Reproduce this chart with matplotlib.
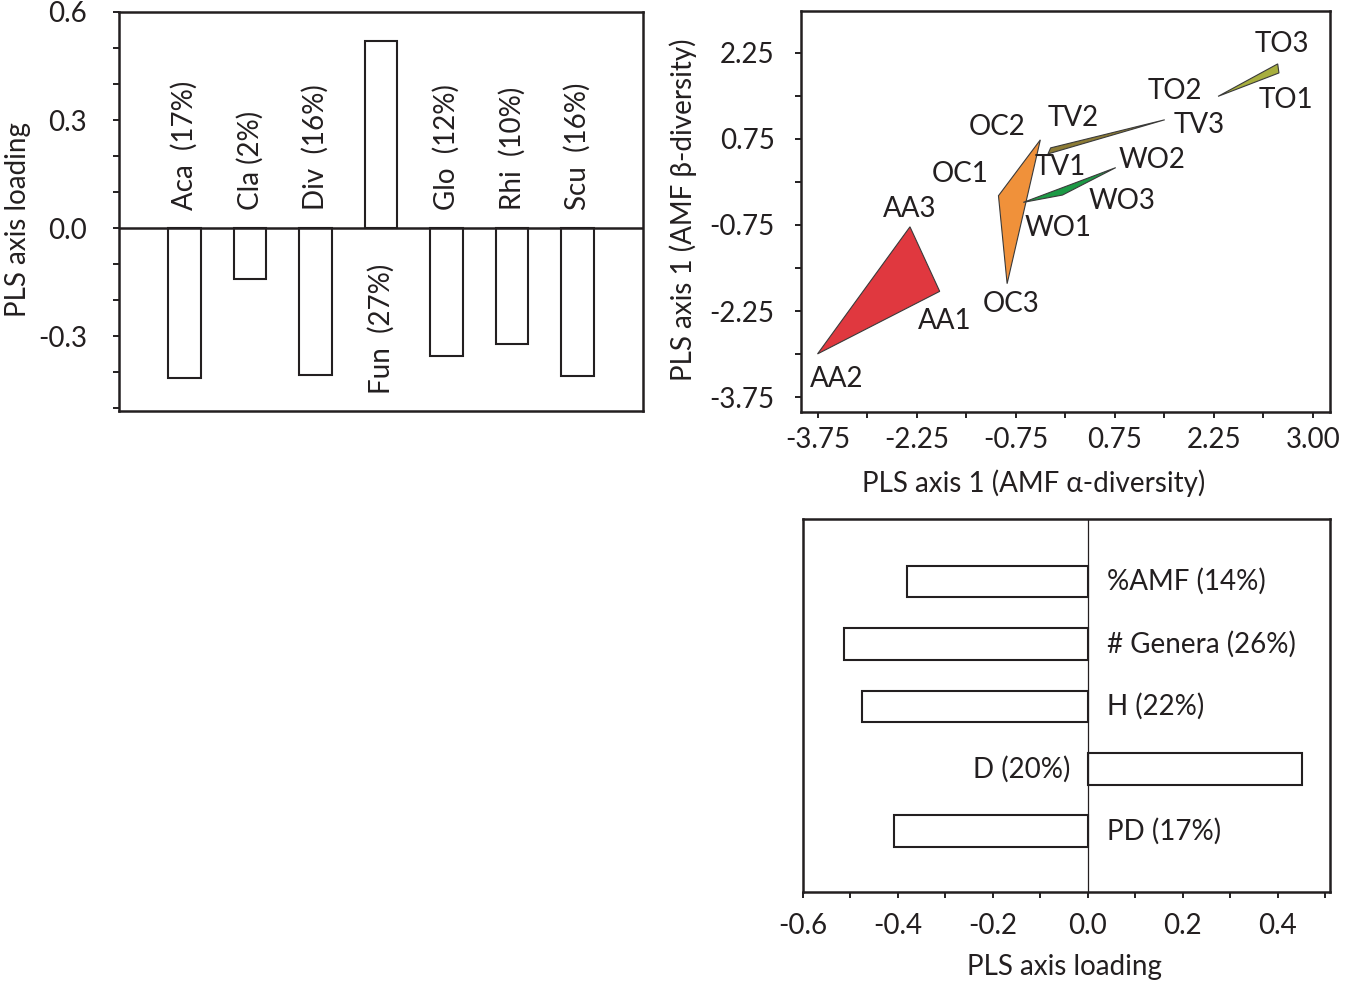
import matplotlib
matplotlib.use("Agg")
import matplotlib.pyplot as plt
from matplotlib.patches import Polygon
from matplotlib.ticker import MultipleLocator, FixedLocator

plt.rcParams['font.family'] = ['Lato', 'DejaVu Sans']

# ---------------- data ----------------
genera = ["Aca", "Cla", "Div", "Fun", "Glo", "Rhi", "Scu"]
genera_pct = ["17%", "2%", "16%", "27%", "12%", "10%", "16%"]
genera_loading = [-0.415, -0.142, -0.407, 0.52, -0.356, -0.323, -0.41]

div_names = ["%AMF", "# Genera", "H", "D", "PD"]
div_pct = ["14%", "26%", "22%", "20%", "17%"]
div_loading = [-0.38, -0.513, -0.475, 0.451, -0.408]

groups = ["AA", "OC", "TV", "WO", "TO"]
group_colors = {"AA": "#e0383f", "OC": "#f0913a", "TV": "#8c7b35",
                "WO": "#1c9a45", "TO": "#a7ae3e"}
site_names = {
    "AA": ["AA1", "AA2", "AA3"],
    "OC": ["OC1", "OC2", "OC3"],
    "TV": ["TV1", "TV2", "TV3"],
    "WO": ["WO1", "WO2", "WO3"],
    "TO": ["TO1", "TO2", "TO3"],
}
alpha_scores = {
    "AA": [-1.90, -3.75, -2.35],
    "OC": [-1.01, -0.376, -0.879],
    "TV": [-0.26, -0.22, 1.508],
    "WO": [-0.634, 0.766, -0.04],
    "TO": [3.237, 2.315, 3.218],
}
beta_scores = {
    "AA": [-1.907, -2.998, -0.782],
    "OC": [-0.24, 0.734, -1.773],
    "TV": [0.489, 0.594, 1.084],
    "WO": [-0.356, 0.25, -0.228],
    "TO": [1.90, 1.492, 2.058],
}

x_ticks = [-3.75, -2.25, -0.75, 0.75, 2.25, 3.75]
x_ticklabels = ["-3.75", "-2.25", "-0.75", "0.75", "2.25", "3.00"]
y_ticks = [-3.75, -2.25, -0.75, 0.75, 2.25]
y_ticklabels = ["-3.75", "-2.25", "-0.75", "0.75", "2.25"]

# label offsets (layout only) relative to each vertex, in data units
label_offsets = {
    "AA1": (0.08, -0.51), "AA2": (0.29, -0.44), "AA3": (-0.01, 0.31),
    "OC1": (-0.58, 0.37), "OC2": (-0.66, 0.23), "OC3": (0.06, -0.35),
    "TV1": (0.19, -0.22), "TV2": (0.34, 0.52), "TV3": (0.52, -0.09),
    "WO1": (0.53, -0.455), "WO2": (0.55, 0.13), "WO3": (0.90, -0.105),
    "TO1": (0.11, -0.47), "TO2": (-0.65, 0.10), "TO3": (0.06, 0.34),
}

# ---------------- figure ----------------
W, H = 1350, 989
fig = plt.figure(figsize=(W / 100, H / 100), dpi=100)

def frac(l, r, t, b):
    return [l / W, 1 - b / H, (r - l) / W, (b - t) / H]

FS_TICK = 20
FS_TXT = 20
LW_FRAME = 1.8
TXT = "#231f20"

def style_axes(ax):
    for s in ax.spines.values():
        s.set_linewidth(LW_FRAME)
        s.set_color(TXT)
    ax.tick_params(which="both", direction="out", length=4, width=1.4,
                   colors=TXT, labelsize=FS_TICK, pad=6)

# ---- top-left: genus loadings ----
ax1 = fig.add_axes(frac(119, 643, 12, 411))
xpos = list(range(1, len(genera) + 1))
ax1.bar(xpos, genera_loading, width=0.5, color="white", edgecolor=TXT,
        linewidth=1.5, zorder=2)
ax1.axhline(0, color=TXT, lw=LW_FRAME, zorder=3)
ax1.set_xlim(0, 8)
ax1.set_ylim(-0.508, 0.6)
ax1.set_xticks([])
ax1.yaxis.set_major_locator(FixedLocator([-0.3, 0.0, 0.3, 0.6]))
ax1.yaxis.set_minor_locator(MultipleLocator(0.1))
ax1.set_yticklabels(["-0.3", "0.0", "0.3", "0.6"])
style_axes(ax1)
ax1.tick_params(axis="y", which="major", pad=19)
ax1.tick_params(axis="x", which="both", length=0)
for x, name, pct, v in zip(xpos, genera, genera_pct, genera_loading):
    sep = " " if name == "Cla" else "  "
    if v < 0:
        ax1.text(x, 0.05, f"{name}{sep}({pct})", rotation=90, ha="center",
                 va="bottom", fontsize=FS_TXT, color=TXT)
    else:
        ax1.text(x, -0.10, f"{name}{sep}({pct})", rotation=90, ha="center",
                 va="top", fontsize=FS_TXT, color=TXT)
ax1.set_ylabel("PLS axis loading", fontsize=FS_TXT, color=TXT)
ax1.yaxis.set_label_coords(-0.192, 0.48)
ax1.yaxis.label.set_va("center")

# ---- top-right: scatter polygons ----
ax2 = fig.add_axes(frac(801, 1330, 11, 412))
for g in groups:
    pts = list(zip(alpha_scores[g], beta_scores[g]))
    ax2.add_patch(Polygon(pts, closed=True, facecolor=group_colors[g],
                          edgecolor="#3a3a3a", linewidth=0.8, zorder=2))
    for name, xv, yv in zip(site_names[g], alpha_scores[g], beta_scores[g]):
        dx, dy = label_offsets[name]
        ax2.text(xv + dx, yv + dy, name, ha="center", va="center",
                 fontsize=FS_TXT, color=TXT, zorder=3)
ax2.set_xlim(-4.0, 4.01)
ax2.set_ylim(-4.01, 2.98)
ax2.set_xticks(x_ticks)
ax2.set_xticklabels(x_ticklabels)
ax2.set_yticks(y_ticks)
ax2.set_yticklabels(y_ticklabels)
ax2.xaxis.set_minor_locator(FixedLocator([-3.0, -1.5, 0.0, 1.5, 3.0]))
ax2.yaxis.set_minor_locator(FixedLocator([-3.0, -1.5, 0.0, 1.5]))
style_axes(ax2)
ax2.tick_params(axis="y", which="major", pad=15)
ax2.tick_params(axis="x", which="major", pad=7)
ax2.set_xlabel("PLS axis 1 (AMF α-diversity)", fontsize=FS_TXT, color=TXT)
ax2.xaxis.set_label_coords(0.44, -0.177)
ax2.xaxis.label.set_va("center")
ax2.set_ylabel("PLS axis 1 (AMF β-diversity)", fontsize=FS_TXT, color=TXT)
ax2.yaxis.set_label_coords(-0.223, 0.504)
ax2.yaxis.label.set_va("center")

# ---- bottom: diversity loadings ----
ax3 = fig.add_axes(frac(803, 1330, 519, 892))
ypos = list(range(len(div_names)))
ax3.barh(ypos, div_loading, height=0.51, color="white", edgecolor=TXT,
         linewidth=1.5, zorder=2)
ax3.axvline(0, color=TXT, lw=0.9, zorder=3)
ax3.set_xlim(-0.6, 0.51)
ax3.set_ylim(4.97, -1.0)
ax3.set_yticks([])
ax3.xaxis.set_major_locator(FixedLocator([-0.6, -0.4, -0.2, 0.0, 0.2, 0.4]))
ax3.xaxis.set_minor_locator(MultipleLocator(0.1))
ax3.set_xticklabels(["-0.6", "-0.4", "-0.2", "0.0", "0.2", "0.4"])
style_axes(ax3)
ax3.tick_params(axis="x", which="major", pad=11)
ax3.tick_params(axis="y", which="both", length=0)
for y, name, pct, v in zip(ypos, div_names, div_pct, div_loading):
    if v < 0:
        ax3.text(0.04, y, f"{name} ({pct})", ha="left", va="center",
                 fontsize=FS_TXT, color=TXT)
    else:
        ax3.text(-0.037, y, f"{name} ({pct})", ha="right", va="center",
                 fontsize=FS_TXT, color=TXT)
ax3.set_xlabel("PLS axis loading", fontsize=FS_TXT, color=TXT)
ax3.xaxis.set_label_coords(0.497, -0.2)
ax3.xaxis.label.set_va("center")

fig.savefig("out.png", dpi=100, facecolor="white")
